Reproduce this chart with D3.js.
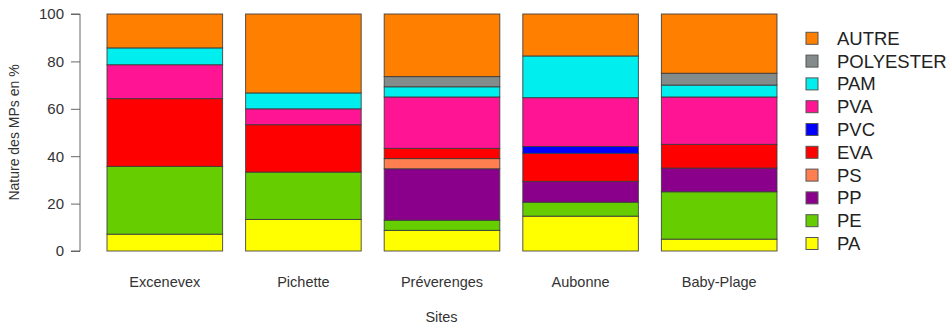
<!DOCTYPE html>
<html>
<head>
<meta charset="utf-8">
<script src="https://cdn.jsdelivr.net/npm/d3@7"></script>
<style>
  html, body { margin: 0; padding: 0; background: #fff; }
  svg { display: block; font-family: "Liberation Sans", Arial, sans-serif; }
</style>
</head>
<body>
<svg id="chart" width="952" height="327"></svg>
<script>
// Sampling sites along the lake shore
const sites = ["Excenevex", "Pichette", "Préverenges", "Aubonne", "Baby-Plage"];

// Share of each polymer type (%) per site, stacked bottom to top
const PA        = [7.1, 13.3, 8.7, 14.7, 5];
const PE        = [28.6, 20, 4.3, 5.9, 20];
const PP        = [0, 0, 21.7, 8.8, 10];
const PS        = [0, 0, 4.3, 0, 0];
const EVA       = [28.6, 20, 4.3, 11.8, 10];
const PVC       = [0, 0, 0, 2.9, 0];
const PVA       = [14.3, 6.7, 21.7, 20.6, 20];
const PAM       = [7.1, 6.7, 4.3, 17.6, 5];
const POLYESTER = [0, 0, 4.3, 0, 5];
const AUTRE     = [14.3, 33.3, 26.4, 17.7, 25];

const materials = ["PA", "PE", "PP", "PS", "EVA", "PVC", "PVA", "PAM", "POLYESTER", "AUTRE"];
const seriesValues = [PA, PE, PP, PS, EVA, PVC, PVA, PAM, POLYESTER, AUTRE];
const colors = ["#FFFF00", "#66CD00", "#8B008B", "#FF7F50", "#FF0000",
                "#0000FF", "#FF1493", "#00EEEE", "#838B8B", "#FF7F00"];
const yTicks = [0, 20, 40, 60, 80, 100];

const rows = sites.map((s, i) => {
  const r = { site: s };
  materials.forEach((m, k) => { r[m] = seriesValues[k][i]; });
  return r;
});

const svg = d3.select("#chart");

const x = d3.scaleBand()
  .domain(sites)
  .range([95.5, 788.5])
  .paddingInner(0.166)
  .paddingOuter(0.083);

const y = d3.scaleLinear().domain([0, 100]).range([251, 14]);

const color = d3.scaleOrdinal().domain(materials).range(colors);

const stacked = d3.stack().keys(materials)(rows);

// Stacked bars
svg.append("g")
  .selectAll("g")
  .data(stacked)
  .join("g")
    .attr("fill", d => color(d.key))
  .selectAll("rect")
  .data(d => d.filter(p => p[1] - p[0] > 0))
  .join("rect")
    .attr("x", d => x(d.data.site))
    .attr("width", x.bandwidth())
    .attr("y", d => y(d[1]))
    .attr("height", d => y(d[0]) - y(d[1]))
    .attr("stroke", "#3a3a3a")
    .attr("stroke-opacity", 0.85)
    .attr("stroke-width", 1);

// Y axis (R-style: detached line with outward ticks)
const yAxis = svg.append("g")
  .attr("transform", "translate(80,0)")
  .call(d3.axisLeft(y).tickValues(yTicks).tickSize(9).tickPadding(7));
yAxis.select(".domain").attr("stroke", "#666").attr("d", `M-9,${y(100)}H0V${y(0)}H-9`);
yAxis.selectAll(".tick line").attr("stroke", "#666");
yAxis.selectAll(".tick text")
  .attr("font-size", 15)
  .attr("fill", "#333")
  .attr("font-family", "Liberation Sans, Arial, sans-serif");

// X category labels
const xAxis = svg.append("g")
  .attr("transform", "translate(0,251)")
  .call(d3.axisBottom(x).tickSize(0).tickPadding(26));
xAxis.select(".domain").remove();
xAxis.selectAll(".tick text")
  .attr("font-size", 14.5)
  .attr("fill", "#333")
  .attr("font-family", "Liberation Sans, Arial, sans-serif");

// Axis titles
svg.append("text")
  .attr("x", 441.5).attr("y", 322)
  .attr("text-anchor", "middle")
  .attr("font-size", 14.5)
  .attr("fill", "#333")
  .text("Sites");

svg.append("text")
  .attr("transform", `translate(19,${(y(0) + y(100)) / 2}) rotate(-90)`)
  .attr("text-anchor", "middle")
  .attr("font-size", 14)
  .attr("fill", "#333")
  .text("Nature des MPs en %");

// Legend, top entry first
const legendKeys = materials.slice().reverse();
const legend = svg.append("g")
  .selectAll("g")
  .data(legendKeys)
  .join("g")
    .attr("transform", (d, i) => `translate(806,${38.3 + i * 22.8})`);

legend.append("rect")
  .attr("x", 0).attr("y", -6)
  .attr("width", 12).attr("height", 12)
  .attr("fill", d => color(d))
  .attr("stroke", "#555")
  .attr("stroke-width", 1);

legend.append("text")
  .attr("x", 31).attr("y", 6.5)
  .attr("font-size", 18.5)
  .attr("fill", "#222")
  .text(d => d);
</script>
</body>
</html>
